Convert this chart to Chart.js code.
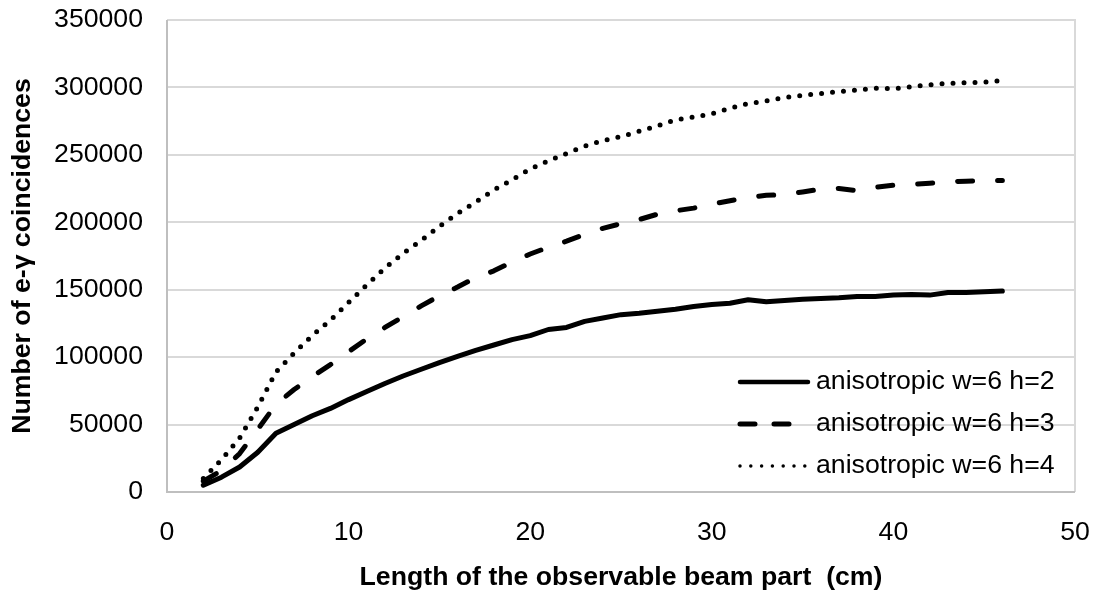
<!DOCTYPE html>
<html>
<head>
<meta charset="utf-8">
<script src="https://cdn.jsdelivr.net/npm/chart.js@4.4.1/dist/chart.umd.min.js"></script>
<style>
  html, body { margin: 0; padding: 0; background: #fff; }
  #wrap { width: 1097px; height: 594px; }
</style>
</head>
<body>
<div id="wrap"><canvas id="coincChart" width="1097" height="594"></canvas></div>
<script>
// beam part length (cm)
const lengths = [2, 3, 4, 5, 6, 7, 8, 9, 10, 11, 12, 13, 14, 15, 16, 17, 18, 19, 20, 21, 22, 23, 24,
                 25, 26, 27, 28, 29, 30, 31, 32, 33, 34, 35, 36, 37, 38, 39, 40, 41, 42, 43, 44, 45, 46];

// number of e-gamma coincidences
const countsH2 = [5000, 11000, 18500, 29500, 43500, 50000, 56500, 62000, 68500, 74500, 80500, 86000, 91000,
                  96000, 100500, 105000, 109000, 113000, 116000, 120500, 122000, 126500, 129000, 131500,
                  132500, 134000, 135500, 137500, 139000, 140000, 142500, 141000, 142000, 143000, 143500,
                  144000, 145000, 145000, 146000, 146500, 146000, 148000, 148000, 148500, 149000];
const countsH3 = [8000, 16000, 28500, 46500, 65000, 76000, 85500, 94500, 104000, 113500, 122000, 130000,
                  138000, 145500, 152000, 159000, 164000, 170500, 176500, 181500, 186000, 191000, 195500,
                  199000, 202000, 206000, 208500, 210500, 213500, 216000, 218500, 220000, 220500, 222500,
                  224500, 225000, 223500, 226000, 227500, 228000, 229000, 230000, 230500, 231000, 231000];
const countsH4 = [10000, 24000, 40000, 63000, 89000, 103000, 116000, 127500, 140500, 153500, 166000, 177000,
                  186500, 197000, 206500, 215000, 224000, 231500, 239500, 245500, 251000, 256500, 260500,
                  263500, 267500, 271500, 276000, 278000, 280500, 284500, 288000, 290000, 292500, 294000,
                  295500, 297000, 298000, 299500, 299000, 300500, 302000, 303000, 303500, 304000, 305000];

const seriesLabels = ["anisotropic w=6 h=2", "anisotropic w=6 h=3", "anisotropic w=6 h=4"];
const xTicks = [0, 10, 20, 30, 40, 50];
const yTicks = [0, 50000, 100000, 150000, 200000, 250000, 300000, 350000];

const FONT = "'Liberation Sans', Arial, sans-serif";

function toPoints(ys) {
    return lengths.map((x, i) => ({ x: x, y: ys[i] }));
}

// plot frame: light box, darker left/bottom axis lines
const plotFrame = {
    id: "plotFrame",
    beforeDatasetsDraw(chart) {
        const { ctx, chartArea: a } = chart;
        ctx.save();
        ctx.strokeStyle = "#d9d9d9";
        ctx.lineWidth = 2;
        ctx.beginPath();
        ctx.moveTo(a.left, a.top);
        ctx.lineTo(a.right, a.top);
        ctx.lineTo(a.right, a.bottom);
        ctx.stroke();
        ctx.strokeStyle = "#bfbfbf";
        ctx.beginPath();
        ctx.moveTo(a.left, a.top);
        ctx.lineTo(a.left, a.bottom);
        ctx.lineTo(a.right, a.bottom);
        ctx.stroke();
        ctx.restore();
    }
};

// legend sits inside the plot, lower right
const legendSpot = { lineStart: 740, lineEnd: 808, textX: 816, firstY: 382, rowGap: 42 };
const insideLegend = {
    id: "insideLegend",
    afterDraw(chart) {
        const ctx = chart.ctx;
        chart.data.datasets.forEach((ds, i) => {
            const y = legendSpot.firstY + i * legendSpot.rowGap;
            ctx.save();
            ctx.strokeStyle = ds.borderColor;
            ctx.lineWidth = ds.legendWidth || ds.borderWidth;
            ctx.lineCap = ds.borderCapStyle;
            ctx.setLineDash(ds.legendDash || ds.borderDash || []);
            ctx.beginPath();
            ctx.moveTo(legendSpot.lineStart, y);
            ctx.lineTo(legendSpot.lineEnd, y);
            ctx.stroke();
            ctx.restore();

            ctx.save();
            ctx.fillStyle = "#000";
            ctx.font = "26.67px " + FONT;
            ctx.textAlign = "left";
            ctx.textBaseline = "middle";
            ctx.fillText(ds.label, legendSpot.textX, y);
            ctx.restore();
        });
    }
};

const ctx = document.getElementById("coincChart").getContext("2d");
new Chart(ctx, {
    type: "line",
    data: {
        datasets: [{
            label: seriesLabels[0],
            data: toPoints(countsH2),
            borderColor: "#000",
            borderWidth: 5,
            legendWidth: 4.5,
            borderCapStyle: "round",
            borderJoinStyle: "round",
            pointRadius: 0,
            tension: 0
        }, {
            label: seriesLabels[1],
            data: toPoints(countsH3),
            borderColor: "#000",
            borderWidth: 5,
            borderDash: [15, 25],
            legendDash: [15, 19],
            borderCapStyle: "round",
            borderJoinStyle: "round",
            pointRadius: 0,
            tension: 0
        }, {
            label: seriesLabels[2],
            data: toPoints(countsH4),
            borderColor: "#000",
            borderWidth: 5,
            borderDash: [0, 11],
            legendWidth: 3.5,
            legendDash: [0, 10.8],
            borderCapStyle: "round",
            borderJoinStyle: "round",
            pointRadius: 0,
            tension: 0
        }]
    },
    options: {
        responsive: false,
        animation: false,
        devicePixelRatio: 1,
        layout: { padding: { top: 20, right: 22, left: 0, bottom: 0 } },
        plugins: {
            legend: { display: false },
            tooltip: { enabled: false }
        },
        scales: {
            x: {
                type: "linear",
                min: 0,
                max: 50,
                afterBuildTicks: scale => { scale.ticks = xTicks.map(v => ({ value: v })); },
                afterFit: scale => {
                    scale.height = 102;
                    scale.paddingLeft = 0;
                    scale.paddingRight = 0;
                },
                grid: { display: false, drawTicks: false },
                border: { display: false },
                ticks: {
                    color: "#000",
                    padding: 25,
                    maxRotation: 0,
                    font: { family: FONT, size: 26.67 },
                    callback: v => String(v)
                },
                title: {
                    display: true,
                    text: "Length of the observable beam part  (cm)",
                    color: "#000",
                    padding: { top: 0, bottom: 0 },
                    font: { family: FONT, size: 26.67, weight: "bold" }
                }
            },
            y: {
                min: 0,
                max: 350000,
                afterBuildTicks: scale => { scale.ticks = yTicks.map(v => ({ value: v })); },
                afterFit: scale => {
                    scale.width = 167;
                    scale.paddingTop = 0;
                    scale.paddingBottom = 0;
                },
                grid: { color: "#d9d9d9", lineWidth: 2, drawTicks: false },
                border: { display: false },
                ticks: {
                    color: "#000",
                    padding: 24,
                    font: { family: FONT, size: 26.67 },
                    callback: v => String(v)
                },
                title: {
                    display: true,
                    text: "Number of e-γ coincidences",
                    color: "#000",
                    padding: { top: 7, bottom: 0 },
                    font: { family: FONT, size: 26.67, weight: "bold" }
                }
            }
        }
    },
    plugins: [plotFrame, insideLegend]
});
</script>
</body>
</html>
